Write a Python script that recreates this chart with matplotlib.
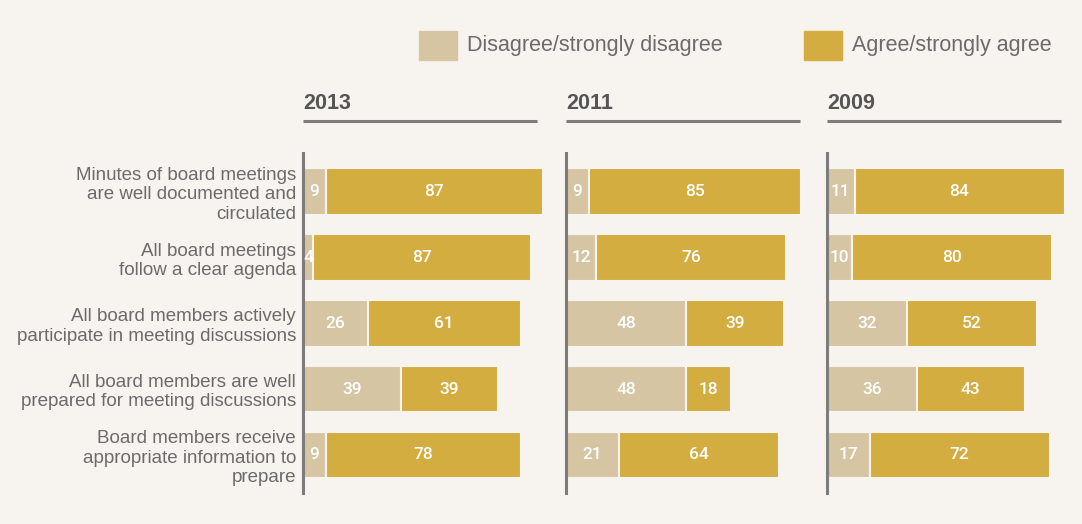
import matplotlib.pyplot as plt
from matplotlib.patches import Rectangle

# survey statements (top to bottom)
statements = [
    "Minutes of board meetings\nare well documented and\ncirculated",
    "All board meetings\nfollow a clear agenda",
    "All board members actively\nparticipate in meeting discussions",
    "All board members are well\nprepared for meeting discussions",
    "Board members receive\nappropriate information to\nprepare",
]
years = ["2013", "2011", "2009"]
disagree = {
    "2013": [9, 4, 26, 39, 9],
    "2011": [9, 12, 48, 48, 21],
    "2009": [11, 10, 32, 36, 17],
}
agree = {
    "2013": [87, 87, 61, 39, 78],
    "2011": [85, 76, 39, 18, 64],
    "2009": [84, 80, 52, 43, 72],
}

bg = "#f7f4ef"
c_dis = "#d6c5a3"
c_agr = "#d4ad40"
grey = "#6b6b6b"
axis_grey = "#7c7c7c"

plt.rcParams["font.family"] = ["Liberation Sans", "DejaVu Sans"]

fig = plt.figure(figsize=(10.82, 5.24), dpi=100, facecolor=bg)

W, H = 1082, 524
lefts = [303, 566, 827]
ax_w = 240
ax_top, ax_bot = 153, 493
rows = range(len(statements))

for i, (yr, left) in enumerate(zip(years, lefts)):
    ax = fig.add_axes([left / W, 1 - ax_bot / H, ax_w / W, (ax_bot - ax_top) / H])
    ax.set_facecolor(bg)
    d = disagree[yr]
    a = agree[yr]
    ax.barh(rows, d, height=0.71, color=c_dis, edgecolor=bg, linewidth=1.5)
    ax.barh(rows, a, left=d, height=0.71, color=c_agr, edgecolor=bg, linewidth=1.5)
    for r in rows:
        ax.text(d[r] / 2, r, str(d[r]), ha="center", va="center", color="white",
                fontsize=12.5, family="Roboto", weight="medium")
        ax.text(d[r] + a[r] / 2, r, str(a[r]), ha="center", va="center", color="white",
                fontsize=12.5, family="Roboto", weight="medium")
    ax.set_xlim(0, 96)
    ax.set_ylim(4.58, -0.59)
    for s in ["top", "right", "bottom"]:
        ax.spines[s].set_visible(False)
    ax.spines["left"].set_color(axis_grey)
    ax.spines["left"].set_linewidth(2.2)
    ax.set_xticks([])
    ax.tick_params(axis="y", length=0, pad=5, labelsize=13.5, labelcolor=grey)
    if i == 0:
        ax.set_yticks(list(rows))
        ax.set_yticklabels(statements)
        for t in ax.get_yticklabels():
            t.set_linespacing(1.18)
    else:
        ax.set_yticks([])

    # year header with underline
    ax.text(0, 1.147, yr, transform=ax.transAxes, ha="left", va="center",
            fontsize=15.5, weight="bold", color="#555555")
    ax.plot([0, 0.975], [1.094, 1.094], transform=ax.transAxes, color=axis_grey,
            linewidth=2.2, clip_on=False, solid_capstyle="butt")

# legend
fig.patches.append(Rectangle((419 / W, 1 - 60 / H), 38 / W, 29 / H, transform=fig.transFigure,
                             color=c_dis, figure=fig))
fig.text(467 / W, 1 - 45 / H, "Disagree/strongly disagree", ha="left", va="center",
         fontsize=15.5, color=grey)
fig.patches.append(Rectangle((804 / W, 1 - 60 / H), 38 / W, 29 / H, transform=fig.transFigure,
                             color=c_agr, figure=fig))
fig.text(852 / W, 1 - 45 / H, "Agree/strongly agree", ha="left", va="center",
         fontsize=15.5, color=grey)

fig.savefig("out.png", dpi=100, facecolor=bg)
